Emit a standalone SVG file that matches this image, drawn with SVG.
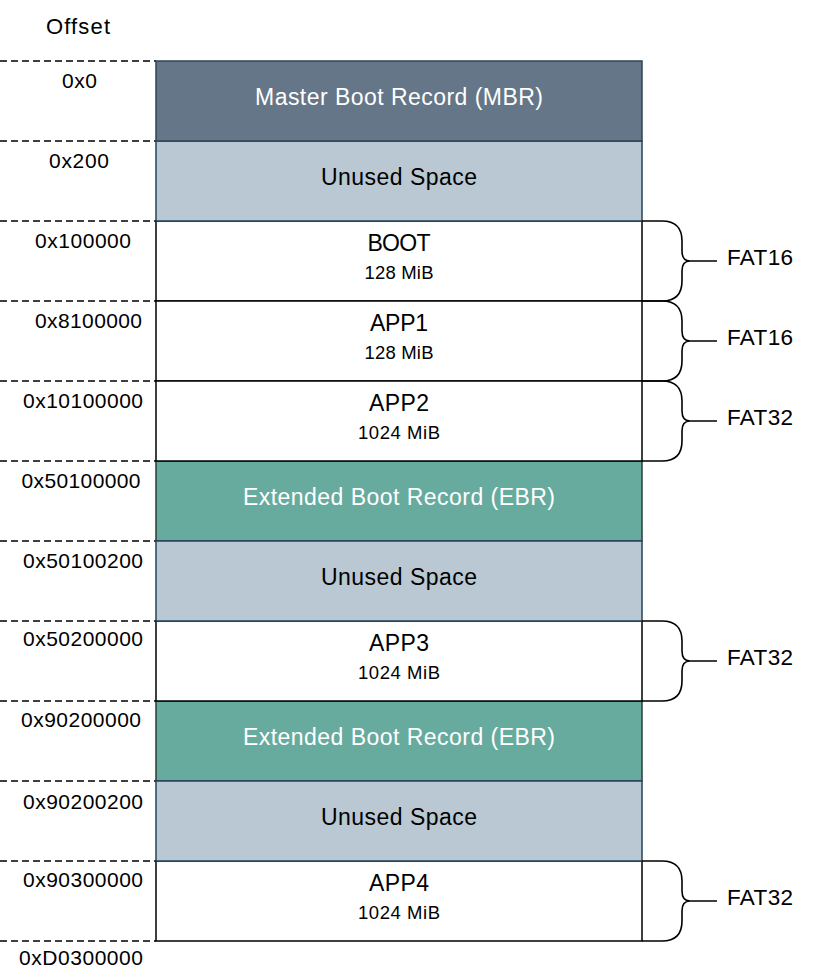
<svg xmlns="http://www.w3.org/2000/svg" width="822" height="972" viewBox="0 0 822 972">
<style>
text{font-family:"Liberation Sans",Arial,Helvetica,sans-serif;}
.off{font-size:21px;fill:#000;text-anchor:middle;}
.t{font-size:23px;text-anchor:middle;fill:#000;}
.w{fill:#fff;}
.s{font-size:18.5px;text-anchor:middle;fill:#000;}
.fat{font-size:22.5px;fill:#000;}
.dash{stroke:#000;stroke-width:1.3;stroke-dasharray:7 4;fill:none;}
.white{fill:#fff;stroke:#000;stroke-width:1.5;}
.unused{fill:#bac8d3;stroke:#23445d;stroke-width:1.5;}
.mbr{fill:#647687;stroke:#314354;stroke-width:1.5;}
.ebr{fill:#67ab9f;stroke:#2b3b38;stroke-width:1.5;}
.brace{fill:none;stroke:#000;stroke-width:1.6;}
</style>
<rect width="822" height="972" fill="#fff"/>
<g id="offset-labels">
<text x="78" y="34" style="font-size:22px;fill:#000;text-anchor:middle" textLength="64" lengthAdjust="spacing">Offset</text>
<text class="off" x="79.5" y="88" textLength="35" lengthAdjust="spacing">0x0</text>
<text class="off" x="79" y="168" textLength="60" lengthAdjust="spacing">0x200</text>
<text class="off" x="83" y="248" textLength="96" lengthAdjust="spacing">0x100000</text>
<text class="off" x="88.5" y="328" textLength="107" lengthAdjust="spacing">0x8100000</text>
<text class="off" x="83" y="408" textLength="120" lengthAdjust="spacing">0x10100000</text>
<text class="off" x="81" y="488" textLength="119" lengthAdjust="spacing">0x50100000</text>
<text class="off" x="83" y="568" textLength="120" lengthAdjust="spacing">0x50100200</text>
<text class="off" x="83" y="646" textLength="120" lengthAdjust="spacing">0x50200000</text>
<text class="off" x="81" y="727" textLength="120" lengthAdjust="spacing">0x90200000</text>
<text class="off" x="83" y="809" textLength="120" lengthAdjust="spacing">0x90200200</text>
<text class="off" x="83" y="887" textLength="120" lengthAdjust="spacing">0x90300000</text>
<text class="off" x="81" y="965" textLength="124" lengthAdjust="spacing">0xD0300000</text>
</g>
<g id="connectors">
<path class="dash" d="M0,61H156M0,141H156M0,221H156M0,301H156M0,381H156M0,461H156M0,541H156M0,621H156M0,701H156M0,781H156M0,861H156M0,941H156"/>
</g>
<g id="ebr1"><rect class="ebr" x="156" y="461" width="486" height="80"/>
<text class="t w" x="399" y="505" textLength="312" lengthAdjust="spacing">Extended Boot Record (EBR)</text></g>
<g id="ebr2"><rect class="ebr" x="156" y="701" width="486" height="80"/>
<text class="t w" x="399" y="745" textLength="312" lengthAdjust="spacing">Extended Boot Record (EBR)</text></g>
<g id="boot"><rect class="white" x="156" y="221" width="486" height="80"/>
<text class="t" x="399" y="251" textLength="63" lengthAdjust="spacing">BOOT</text>
<text class="s" x="399" y="279" textLength="69" lengthAdjust="spacing">128 MiB</text></g>
<g id="app1"><rect class="white" x="156" y="301" width="486" height="80"/>
<text class="t" x="399" y="331" textLength="58" lengthAdjust="spacing">APP1</text>
<text class="s" x="399" y="359" textLength="69" lengthAdjust="spacing">128 MiB</text></g>
<g id="app2"><rect class="white" x="156" y="381" width="486" height="80"/>
<text class="t" x="399" y="411" textLength="60" lengthAdjust="spacing">APP2</text>
<text class="s" x="399" y="439" textLength="82" lengthAdjust="spacing">1024 MiB</text></g>
<g id="app3"><rect class="white" x="156" y="621" width="486" height="80"/>
<text class="t" x="399" y="651" textLength="60" lengthAdjust="spacing">APP3</text>
<text class="s" x="399" y="679" textLength="82" lengthAdjust="spacing">1024 MiB</text></g>
<g id="app4"><rect class="white" x="156" y="861" width="486" height="80"/>
<text class="t" x="399" y="891" textLength="60" lengthAdjust="spacing">APP4</text>
<text class="s" x="399" y="919" textLength="82" lengthAdjust="spacing">1024 MiB</text></g>
<g id="unused1"><rect class="unused" x="156" y="141" width="486" height="80"/>
<text class="t" x="399" y="185" textLength="156" lengthAdjust="spacing">Unused Space</text></g>
<g id="unused2"><rect class="unused" x="156" y="541" width="486" height="80"/>
<text class="t" x="399" y="585" textLength="156" lengthAdjust="spacing">Unused Space</text></g>
<g id="unused3"><rect class="unused" x="156" y="781" width="486" height="80"/>
<text class="t" x="399" y="825" textLength="156" lengthAdjust="spacing">Unused Space</text></g>
<g id="mbr"><rect class="mbr" x="156" y="61" width="486" height="80"/>
<text class="t w" x="399" y="105" textLength="288" lengthAdjust="spacing">Master Boot Record (MBR)</text></g>
<g id="brace-boot"><path class="brace" d="M642,221H662Q682,221 682,241V251Q682,261 690,261Q682,261 682,271V281Q682,301 662,301H642M690,261H717"/>
<text class="fat" x="727" y="265" textLength="66" lengthAdjust="spacing">FAT16</text></g>
<g id="brace-app1"><path class="brace" d="M642,301H662Q682,301 682,321V331Q682,341 690,341Q682,341 682,351V361Q682,381 662,381H642M690,341H717"/>
<text class="fat" x="727" y="345" textLength="66" lengthAdjust="spacing">FAT16</text></g>
<g id="brace-app2"><path class="brace" d="M642,381H662Q682,381 682,401V411Q682,421 690,421Q682,421 682,431V441Q682,461 662,461H642M690,421H717"/>
<text class="fat" x="727" y="425" textLength="66" lengthAdjust="spacing">FAT32</text></g>
<g id="brace-app3"><path class="brace" d="M642,621H662Q682,621 682,641V651Q682,661 690,661Q682,661 682,671V681Q682,701 662,701H642M690,661H717"/>
<text class="fat" x="727" y="665" textLength="66" lengthAdjust="spacing">FAT32</text></g>
<g id="brace-app4"><path class="brace" d="M642,861H662Q682,861 682,881V891Q682,901 690,901Q682,901 682,911V921Q682,941 662,941H642M690,901H717"/>
<text class="fat" x="727" y="905" textLength="66" lengthAdjust="spacing">FAT32</text></g>
</svg>
